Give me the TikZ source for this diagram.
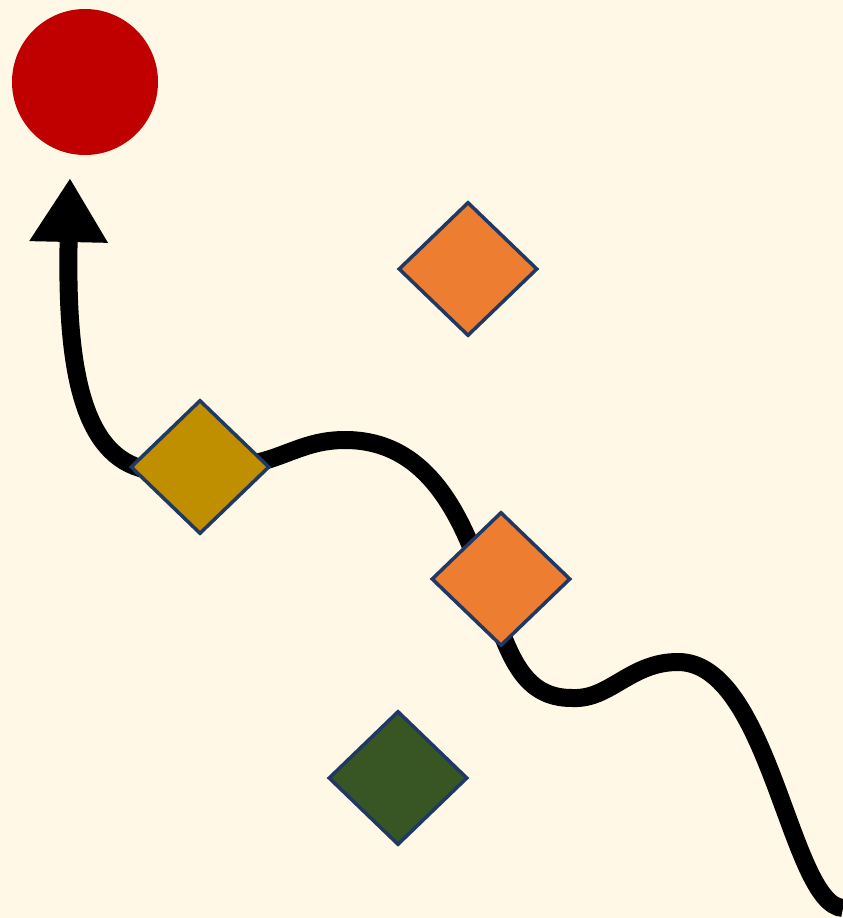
\documentclass[tikz,border=0pt]{standalone}
\usetikzlibrary{shapes.geometric, arrows.meta}

\definecolor{bgcream}{HTML}{FFF8E6}
\definecolor{goalred}{HTML}{C00000}
\definecolor{stoporange}{HTML}{ED7D31}
\definecolor{stopgold}{HTML}{BF8F00}
\definecolor{stopgreen}{HTML}{375623}
\definecolor{edgenavy}{HTML}{1F3864}

\begin{document}
\begin{tikzpicture}[x=1pt, y=-1pt,
    stopbox/.style={draw=edgenavy, line width=3.5pt, shape=diamond, inner sep=0pt,
      minimum width=139pt, minimum height=134pt}]
      \fill[bgcream] (0,0) rectangle (843,918);
      \useasboundingbox (0,0) rectangle (843,918);
      \clip (0,0) rectangle (843,918);
      % target
      \node[circle, fill=goalred, minimum width=146pt, minimum height=143pt, inner sep=0pt] (goal) at (85,82) {};
      \coordinate (start) at (843,908);
      \coordinate (tip) at (70,178);
      % the road
      \draw[line width=18pt, -{Triangle[width=74pt, length=64pt]}]
        (start) .. controls (790,905) and (770,662) .. (678,662)
        .. controls (630,662) and (610,700) .. (572,698)
        .. controls (525,698) and (510,660) .. (490,600)
        .. controls (465,520) and (430,440) .. (345,440)
        .. controls (305,440) and (285,458) .. (250,464)
        -- (140,468)
        .. controls (80,450) and (66,360) .. (tip);
      % stops
      \node[stopbox, fill=stoporange] (upper) at (468,269) {};
      \node[stopbox, fill=stopgold] (first) at (200,467) {};
      \node[stopbox, fill=stoporange] (second) at (501,579) {};
      \node[stopbox, fill=stopgreen] (lower) at (398,778) {};
    \end{tikzpicture}
\end{document}
